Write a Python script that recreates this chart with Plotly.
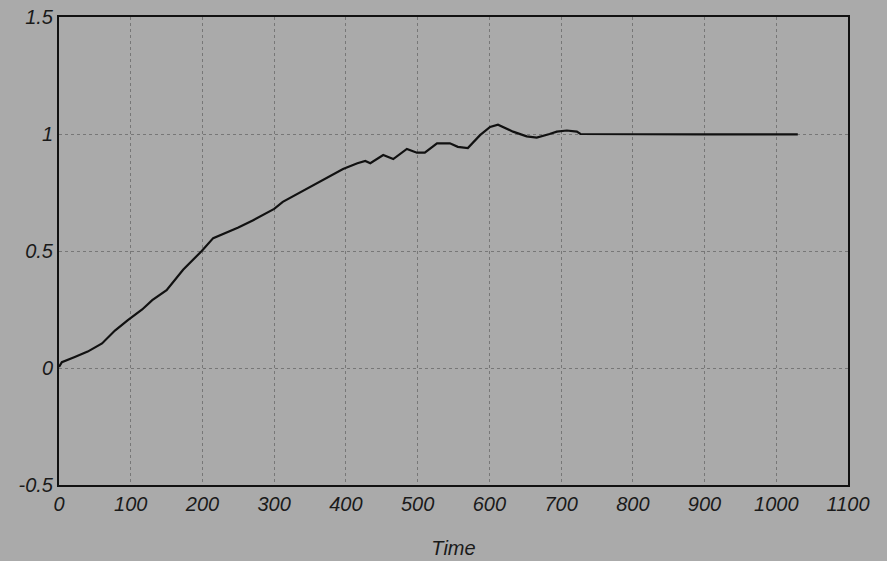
import plotly.graph_objects as go

time = [0, 4, 22, 40, 60, 78, 96, 116, 130, 150, 173, 199, 215, 234, 250, 270, 300, 312, 336, 360,
        378, 396, 416, 427, 434, 452, 466, 485, 499, 510, 527, 545, 556, 570, 587, 601, 612, 633,
        652, 666, 684, 694, 708, 722, 727, 800, 900, 1030]
value = [0.005, 0.025, 0.047, 0.07, 0.105, 0.16, 0.205, 0.25, 0.29, 0.333, 0.42, 0.50, 0.555, 0.58,
         0.60, 0.63, 0.68, 0.71, 0.75, 0.79, 0.82, 0.85, 0.875, 0.885, 0.875, 0.91, 0.893, 0.936,
         0.92, 0.92, 0.96, 0.96, 0.945, 0.94, 0.995, 1.03, 1.04, 1.01, 0.99, 0.985, 1.0, 1.01,
         1.015, 1.01, 1.0, 0.998, 0.998, 0.998]

x_ticks = list(range(0, 1101, 100))
y_ticks = [-0.5, 0, 0.5, 1, 1.5]
y_tick_text = ["-0.5", "0", "0.5", "1", "1.5"]

bg = "#aaaaaa"
tickfont = dict(family="Liberation Sans, Arial, sans-serif", size=20, style="italic", color="#1a1a1a")

fig = go.Figure()
fig.add_trace(go.Scatter(x=time, y=value, mode="lines",
                         line=dict(color="#111111", width=2.2), showlegend=False))

fig.update_layout(
    width=887, height=561,
    margin=dict(l=59, r=39, t=17, b=76, autoexpand=False),
    paper_bgcolor=bg, plot_bgcolor=bg,
    xaxis=dict(range=[0, 1100], tickvals=x_ticks, showgrid=True, gridcolor="#777777",
               griddash="dot", gridwidth=1, zeroline=False, showline=True, mirror=True,
               linecolor="#111111", linewidth=2, ticks="", tickfont=tickfont,
               title=dict(text="Time", font=tickfont, standoff=27)),
    yaxis=dict(range=[-0.5, 1.5], tickvals=y_ticks, ticktext=y_tick_text, showgrid=True,
               gridcolor="#777777", griddash="dot", gridwidth=1, zeroline=False, showline=True,
               mirror=True, linecolor="#111111", linewidth=2, ticks="", tickfont=tickfont),
)

fig.write_html("out.html", config={"displayModeBar": False},
               post_script="document.body.style.margin='0';document.body.style.background='#aaaaaa';")
